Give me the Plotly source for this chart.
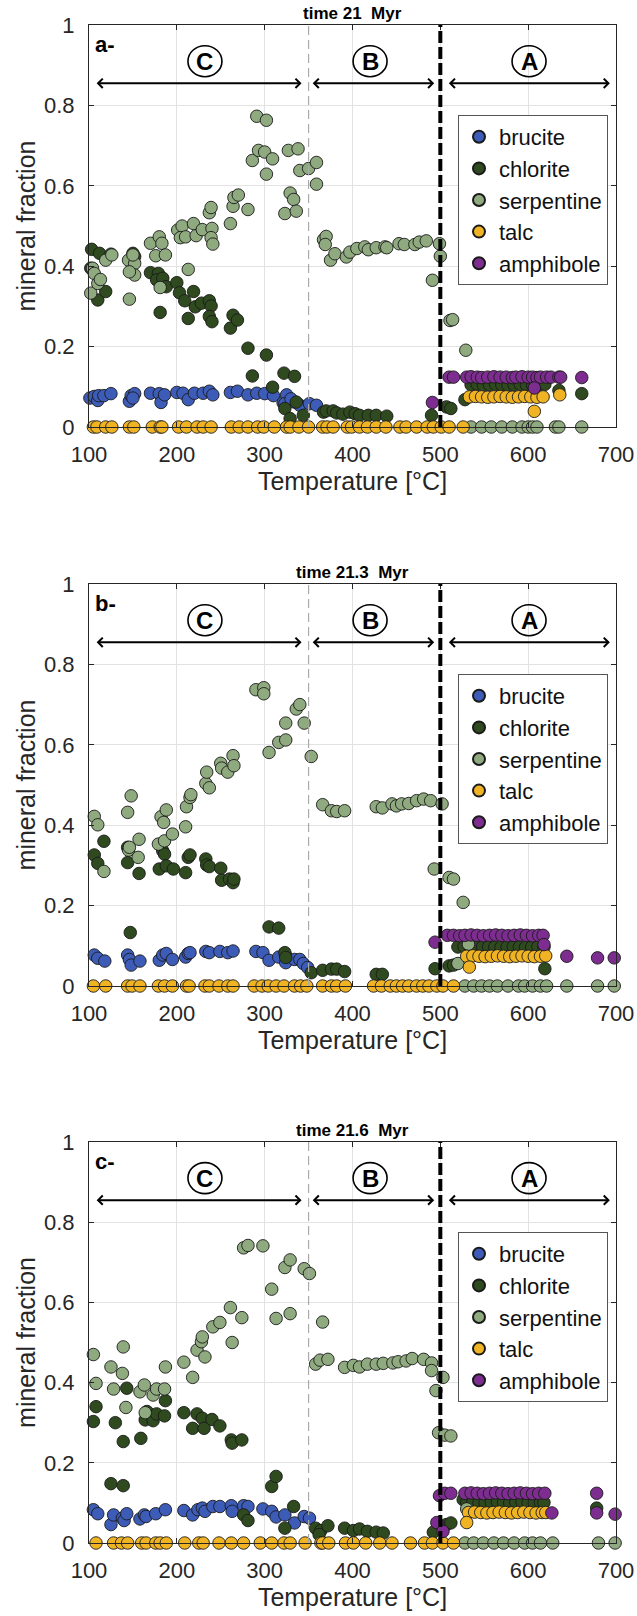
import plotly.graph_objects as go

# ---------------- DATA ----------------
minerals = ["brucite", "chlorite", "serpentine", "talc", "amphibole"]
colors = ["#3d5cb8", "#2f4a1f", "#8faa7f", "#f0b323", "#7d2d8f"]
panel_titles = ["time 21  Myr", "time 21.3  Myr", "time 21.6  Myr"]
panel_labels = ["a-", "b-", "c-"]
xticks = [100, 200, 300, 400, 500, 600, 700]
yticks = [0, 0.2, 0.4, 0.6, 0.8, 1]
ytick_text = ["0", "0.2", "0.4", "0.6", "0.8", "1"]
zone_names = ["C", "B", "A"]
zone_label_T = [232, 420, 601]
zone_arrow_start = [107, 353, 508]
zone_arrow_end = [342, 493, 693]
zone_label_v = 0.91
zone_arrow_v = 0.855
boundary_CB = 350
boundary_BA = 500

# ---- panel a (21 Myr) ----
a_brucite_T = [101, 106, 110, 111, 117, 125, 146, 148, 152, 150, 170, 180, 182, 186, 200, 207, 213, 220, 230,
               237, 241, 261, 269, 281, 291, 300, 310, 321, 325, 323, 334, 340, 351, 359, 330]
a_brucite_v = [0.072, 0.076, 0.066, 0.078, 0.078, 0.083, 0.064, 0.078, 0.083, 0.072, 0.084, 0.083, 0.061, 0.080,
               0.086, 0.084, 0.068, 0.084, 0.084, 0.089, 0.080, 0.086, 0.089, 0.080, 0.084, 0.083, 0.078, 0.060,
               0.080, 0.058, 0.062, 0.054, 0.058, 0.054, 0.070]
a_chlorite_T = [103, 112, 125, 102, 110, 119, 150, 152, 148, 170, 179, 177, 184, 188, 181, 200, 203, 209, 219, 221,
                213, 228, 237, 239, 237, 240, 261, 264, 269, 281, 302, 286, 309, 322, 334, 323, 329, 336, 344,
                367, 370, 378, 382, 389, 397, 403, 408, 418, 427, 439, 490, 507, 512, 528,
                535, 542, 549, 556, 563, 570, 577, 584, 591, 598, 605, 612, 619, 635, 661]
a_chlorite_v = [0.442, 0.432, 0.430, 0.395, 0.316, 0.337, 0.432, 0.424, 0.415, 0.384, 0.382, 0.366, 0.370, 0.349,
                0.285, 0.359, 0.334, 0.314, 0.337, 0.299, 0.270, 0.308, 0.314, 0.301, 0.275, 0.262, 0.246, 0.278,
                0.266, 0.196, 0.179, 0.127, 0.099, 0.134, 0.126, 0.046, 0.021, 0.062, 0.029,
                0.037, 0.040, 0.040, 0.035, 0.032, 0.037, 0.033, 0.029, 0.029, 0.029, 0.027, 0.029, 0.050, 0.046,
                0.068, 0.105, 0.106, 0.104, 0.105, 0.106, 0.105, 0.104, 0.105, 0.106, 0.105, 0.104, 0.105, 0.106,
                0.091, 0.083]
a_serpentine_T = [102, 104, 106, 110, 113, 119, 126, 146, 145, 152, 152, 146, 150, 170, 176, 180, 183, 187, 181,
                  201, 206, 204, 213, 210, 219, 222, 229, 237, 239, 240, 239, 241, 261, 264, 265, 270, 281,
                  286, 293, 291, 302, 300, 302, 309, 327, 338, 323, 329, 333, 336, 340, 350, 359, 359,
                  367, 370, 369, 375, 380, 393, 397, 405, 414, 418, 427, 437, 439, 453, 459, 471, 476, 484,
                  499, 500, 491, 511, 514, 529,
                  535, 547, 558, 570, 582, 593, 600, 605, 610, 631, 635, 661]
a_serpentine_v = [0.333, 0.395, 0.382, 0.357, 0.367, 0.415, 0.428, 0.318, 0.415, 0.407, 0.378, 0.386, 0.428,
                  0.457, 0.426, 0.473, 0.457, 0.428, 0.347, 0.490, 0.500, 0.471, 0.392, 0.473, 0.506, 0.476,
                  0.491, 0.533, 0.546, 0.494, 0.471, 0.455, 0.506, 0.549, 0.571, 0.577, 0.541,
                  0.663, 0.688, 0.773, 0.763, 0.684, 0.629, 0.667, 0.688, 0.692, 0.531, 0.582, 0.566, 0.537,
                  0.638, 0.643, 0.658, 0.604,
                  0.466, 0.474, 0.454, 0.415, 0.431, 0.423, 0.435, 0.444, 0.448, 0.441, 0.446, 0.448, 0.446,
                  0.456, 0.454, 0.454, 0.460, 0.463, 0.456, 0.425, 0.365, 0.265, 0.267, 0.191,
                  0, 0, 0, 0, 0, 0, 0, 0, 0, 0, 0, 0]
a_talc_T = [105, 109, 119, 126, 146, 151, 172, 181, 183, 202, 211, 223, 230, 239, 262, 271, 281, 292, 299, 311,
            325, 329, 339, 350, 366, 371, 378, 394, 399, 408, 417, 427, 438, 454, 461, 473, 485, 492, 501, 510,
            526,
            533, 540, 547, 554, 561, 568, 575, 582, 589, 596, 603, 610, 617, 607, 636]
a_talc_v = [0] * 41 + [0.075, 0.076, 0.075, 0.074, 0.075, 0.076, 0.075, 0.074, 0.075, 0.076, 0.075, 0.074, 0.075,
                       0.039, 0.080]
a_amphibole_T = [491, 510, 515, 530, 535, 542, 547, 554, 561, 568, 575, 582, 586, 593, 600, 605, 610, 614, 621,
                 626, 635, 637, 661, 607]
a_amphibole_v = [0.061, 0.124, 0.124, 0.124, 0.125, 0.124, 0.123, 0.124, 0.125, 0.124, 0.124, 0.123, 0.124,
                 0.125, 0.124, 0.124, 0.123, 0.124, 0.124, 0.124, 0.124, 0.124, 0.123, 0.097]

# ---- panel b (21.3 Myr) ----
b_brucite_T = [106, 110, 118, 144, 146, 148, 158, 180, 184, 188, 195, 210, 213, 215, 233, 237, 249, 258, 264,
               290, 298, 305, 316, 324, 324, 334, 340, 344, 349]
b_brucite_v = [0.077, 0.069, 0.062, 0.077, 0.066, 0.052, 0.062, 0.064, 0.077, 0.081, 0.066, 0.072, 0.081, 0.083,
               0.086, 0.083, 0.086, 0.083, 0.087, 0.086, 0.083, 0.064, 0.072, 0.058, 0.075, 0.066, 0.066, 0.056,
               0.046]
b_chlorite_T = [106, 110, 117, 144, 144, 157, 147, 180, 184, 186, 188, 196, 210, 213, 215, 233, 234, 237, 250,
                251, 260, 264, 265, 305, 316, 323, 324, 353, 366, 376, 382, 391, 427, 434, 494, 510, 515,
                520, 527, 534, 541, 548, 555, 562, 569, 576, 583, 590, 597, 604, 611, 618, 619]
b_chlorite_v = [0.326, 0.305, 0.360, 0.345, 0.307, 0.280, 0.133, 0.291, 0.336, 0.328, 0.299, 0.291, 0.282,
                0.320, 0.326, 0.316, 0.301, 0.297, 0.293, 0.263, 0.266, 0.257, 0.266, 0.147, 0.144, 0.083,
                0.071, 0.033, 0.039, 0.042, 0.042, 0.036, 0.029, 0.029, 0.043, 0.050, 0.052,
                0.097, 0.098, 0.097, 0.096, 0.097, 0.098, 0.097, 0.096, 0.097, 0.098, 0.097, 0.096, 0.097,
                0.098, 0.097, 0.043]
b_serpentine_T = [106, 110, 117, 144, 148, 145, 146, 157, 156, 179, 182, 185, 186, 188, 195, 210, 211, 215, 216,
                  233, 234, 237, 250, 251, 258, 264, 265, 290, 299, 299, 305, 316, 324, 324, 336, 340, 345, 353,
                  366, 376, 382, 391, 427, 434, 445, 450, 456, 464, 473, 481, 489, 502, 493, 510, 515, 526,
                  532, 520,
                  528, 538, 547, 556, 565, 577, 589, 596, 605, 614, 621, 644, 679, 698]
b_serpentine_v = [0.422, 0.401, 0.285, 0.432, 0.473, 0.338, 0.345, 0.365, 0.320, 0.353, 0.421, 0.407, 0.361,
                  0.438, 0.378, 0.396, 0.446, 0.469, 0.476, 0.504, 0.532, 0.493, 0.554, 0.542, 0.532, 0.573,
                  0.548, 0.737, 0.742, 0.727, 0.581, 0.606, 0.612, 0.654, 0.689, 0.700, 0.654, 0.571,
                  0.451, 0.436, 0.434, 0.436, 0.446, 0.443, 0.453, 0.448, 0.453, 0.454, 0.461, 0.465, 0.461,
                  0.453, 0.291, 0.270, 0.266, 0.208, 0.104, 0.056,
                  0, 0, 0, 0, 0, 0, 0, 0, 0, 0, 0, 0, 0, 0]
b_talc_T = [105, 119, 144, 149, 158, 179, 186, 195, 211, 214, 232, 237, 248, 258, 264, 288, 297, 304, 313, 322,
            334, 341, 348, 366, 376, 382, 392, 424, 433, 443, 450, 457, 464, 473, 480, 487, 496, 503, 515,
            530, 537, 544, 551, 558, 565, 572, 579, 586, 593, 600, 607, 614, 620, 533]
b_talc_v = [0] * 39 + [0.074, 0.075, 0.074, 0.073, 0.074, 0.075, 0.074, 0.073, 0.074, 0.075, 0.074, 0.073,
                       0.074, 0.075, 0.047]
b_amphibole_T = [494, 508, 515, 522, 528, 535, 542, 549, 556, 563, 570, 577, 584, 591, 598, 605, 612, 617, 618,
                 644, 679, 698]
b_amphibole_v = [0.109, 0.126, 0.126, 0.125, 0.126, 0.127, 0.126, 0.125, 0.126, 0.127, 0.126, 0.125, 0.126,
                 0.127, 0.126, 0.125, 0.126, 0.126, 0.103, 0.074, 0.070, 0.070]

# ---- panel c (21.6 Myr) ----
c_brucite_T = [105, 110, 125, 128, 138, 140, 143, 158, 163, 165, 176, 187, 208, 218, 224, 229, 232, 241, 249,
               262, 263, 276, 281, 298, 308, 313, 323, 334, 345, 351]
c_brucite_v = [0.083, 0.073, 0.046, 0.070, 0.062, 0.056, 0.073, 0.060, 0.070, 0.066, 0.073, 0.083, 0.081, 0.070,
               0.083, 0.087, 0.079, 0.091, 0.091, 0.093, 0.079, 0.093, 0.091, 0.085, 0.079, 0.065, 0.070,
               0.050, 0.066, 0.062]
c_chlorite_T = [105, 108, 130, 125, 139, 139, 143, 159, 164, 166, 173, 177, 186, 187, 208, 218, 223, 229, 231,
                240, 249, 262, 263, 274, 276, 281, 308, 313, 323, 333, 358, 364, 362, 372, 391, 401, 408, 417,
                427, 435, 492, 507, 512, 526,
                530, 537, 544, 551, 558, 565, 572, 579, 586, 593, 600, 607, 614, 618, 678]
c_chlorite_v = [0.303, 0.340, 0.300, 0.148, 0.143, 0.253, 0.386, 0.261, 0.307, 0.328, 0.305, 0.322, 0.317,
                0.355, 0.325, 0.286, 0.322, 0.311, 0.286, 0.308, 0.292, 0.257, 0.249, 0.257, 0.070, 0.056,
                0.141, 0.166, 0.037, 0.091, 0.037, 0.031, 0.021, 0.043, 0.037, 0.031, 0.035, 0.029, 0.027,
                0.025, 0.027, 0.046, 0.050, 0.108,
                0.101, 0.102, 0.101, 0.100, 0.101, 0.102, 0.101, 0.100, 0.101, 0.102, 0.101, 0.100, 0.101,
                0.101, 0.087]
c_serpentine_T = [105, 108, 125, 128, 138, 139, 142, 158, 163, 164, 173, 177, 186, 187, 208, 218, 223, 228, 229,
                  232, 241, 249, 261, 263, 274, 276, 281, 298, 308, 313, 323, 329, 329, 345, 351, 366, 358, 363,
                  372, 391, 401, 408, 417, 427, 435, 446, 452, 461, 468, 481, 490, 490, 495, 503, 498, 505,
                  512, 530,
                  528, 538, 549, 561, 572, 584, 596, 605, 614, 628, 680, 699]
c_serpentine_v = [0.470, 0.398, 0.439, 0.384, 0.423, 0.489, 0.338, 0.377, 0.394, 0.325, 0.369, 0.384, 0.384,
                  0.439, 0.451, 0.413, 0.481, 0.502, 0.514, 0.464, 0.539, 0.550, 0.587, 0.500, 0.562, 0.736,
                  0.742, 0.741, 0.633, 0.560, 0.687, 0.706, 0.572, 0.684, 0.672, 0.551, 0.446, 0.456, 0.458,
                  0.438, 0.443, 0.439, 0.446, 0.446, 0.448, 0.449, 0.452, 0.454, 0.460, 0.458, 0.449, 0.430,
                  0.380, 0.413, 0.275, 0.269, 0.267, 0.085,
                  0, 0, 0, 0, 0, 0, 0, 0, 0, 0, 0, 0]
c_talc_T = [108, 128, 137, 144, 160, 165, 176, 181, 188, 209, 225, 230, 248, 262, 276, 295, 308, 322, 329, 346,
            364, 366, 373, 392, 401, 415, 431, 445, 466, 482, 491, 503, 515,
            532, 539, 546, 553, 560, 567, 574, 581, 588, 595, 602, 609, 616, 620, 530]
c_talc_v = [0] * 33 + [0.076, 0.077, 0.076, 0.075, 0.076, 0.077, 0.076, 0.075, 0.076, 0.077, 0.076, 0.075,
                       0.076, 0.076, 0.051]
c_amphibole_T = [496, 503, 499, 505, 512, 528, 535, 542, 549, 556, 563, 570, 577, 584, 591, 598, 605, 612, 619,
                 627, 678, 678, 699]
c_amphibole_v = [0.051, 0.029, 0.118, 0.124, 0.124, 0.124, 0.125, 0.124, 0.123, 0.124, 0.125, 0.124, 0.123,
                 0.124, 0.125, 0.124, 0.123, 0.124, 0.124, 0.075, 0.124, 0.075, 0.072]

panels = [
    [(a_brucite_T, a_brucite_v), (a_chlorite_T, a_chlorite_v), (a_serpentine_T, a_serpentine_v),
     (a_talc_T, a_talc_v), (a_amphibole_T, a_amphibole_v)],
    [(b_brucite_T, b_brucite_v), (b_chlorite_T, b_chlorite_v), (b_serpentine_T, b_serpentine_v),
     (b_talc_T, b_talc_v), (b_amphibole_T, b_amphibole_v)],
    [(c_brucite_T, c_brucite_v), (c_chlorite_T, c_chlorite_v), (c_serpentine_T, c_serpentine_v),
     (c_talc_T, c_talc_v), (c_amphibole_T, c_amphibole_v)],
]

# ---------------- FIGURE ----------------
W, H = 637, 1616
ML, MR, MT, MB = 89, 21, 25, 73
plot_h = H - MT - MB
# panel pixel extents (top, bottom)
panel_px = [(25, 427), (584, 986), (1142, 1543)]
domains = [[(H - MB - b) / plot_h, (H - MB - t) / plot_h] for (t, b) in panel_px]
domains = [[max(0, d0), min(1, d1)] for d0, d1 in domains]

AX = "#262626"
FONT = "Liberation Sans, Arial, sans-serif"

fig = go.Figure()
for p, pdata in enumerate(panels):
    xa = "x" if p == 0 else f"x{p+1}"
    ya = "y" if p == 0 else f"y{p+1}"
    lg = "legend" if p == 0 else f"legend{p+1}"
    for m, (T, v) in enumerate(pdata):
        fig.add_trace(go.Scatter(
            x=T, y=v, mode="markers", name=minerals[m],
            xaxis=xa, yaxis=ya, legend=lg, cliponaxis=False,
            marker=dict(size=12.5, color=colors[m], line=dict(color="#1a1a1a", width=0.9)),
        ))

layout = dict(
    width=W, height=H,
    margin=dict(l=ML, r=MR, t=MT, b=MB),
    paper_bgcolor="white", plot_bgcolor="white",
    font=dict(family=FONT, color=AX),
    showlegend=True,
)
shapes = []
annotations = []
for p in range(3):
    sfx = "" if p == 0 else str(p + 1)
    layout["xaxis" + sfx] = dict(
        domain=[0, 1], anchor="y" + sfx, range=[100, 700],
        tickvals=xticks, ticktext=[str(t) for t in xticks],
        ticks="inside", ticklen=5, tickcolor=AX, showline=True, linecolor=AX, linewidth=1,
        mirror="ticks", showgrid=True, gridcolor="#e2e2e2", gridwidth=1, zeroline=False,
        tickfont=dict(size=22, color=AX, family=FONT), ticklabelstandoff=8,
        title=dict(text="Temperature [°C]", font=dict(size=25, color=AX, family=FONT), standoff=6),
        automargin=False,
    )
    layout["yaxis" + sfx] = dict(
        domain=domains[p], anchor="x" + sfx, range=[0, 1],
        tickvals=yticks, ticktext=ytick_text,
        ticks="inside", ticklen=5, tickcolor=AX, showline=True, linecolor=AX, linewidth=1,
        mirror="ticks", showgrid=True, gridcolor="#e2e2e2", gridwidth=1, zeroline=False,
        tickfont=dict(size=22, color=AX, family=FONT), ticklabelstandoff=9,
        title=dict(text="mineral fraction", font=dict(size=25, color=AX, family=FONT), standoff=1),
        automargin=False,
    )
    legname = "legend" + sfx
    layout[legname] = dict(
        x=(458 - ML) / (W - ML - MR), xanchor="left",
        y=(H - MB - (115 + panel_px[p][0] - 25)) / plot_h, yanchor="top",
        bgcolor="white", bordercolor="#555555", borderwidth=1,
        font=dict(size=22, family=FONT, color="#111111"),
        itemsizing="constant", tracegroupgap=0,
    )
    xr, yr = "x" + sfx, "y" + sfx
    # boundaries
    shapes.append(dict(type="line", xref=xr, yref=yr + " domain", x0=boundary_CB, x1=boundary_CB, y0=0, y1=1,
                       line=dict(color="#aaaaaa", width=1.2, dash="9px,5px"), layer="above"))
    shapes.append(dict(type="line", xref=xr, yref=yr + " domain", x0=boundary_BA, x1=boundary_BA, y0=0, y1=1,
                       line=dict(color="black", width=4, dash="12px,4px"), layer="above"))
    for z in range(3):
        shapes.append(dict(type="circle", xref=xr, yref=yr, xsizemode="pixel", ysizemode="pixel",
                           xanchor=zone_label_T[z], yanchor=zone_label_v, x0=-17, x1=17, y0=-15.5, y1=15.5,
                           line=dict(color="black", width=1.6)))
        annotations.append(dict(x=zone_label_T[z], y=zone_label_v, xref=xr, yref=yr,
                                text="<b>" + zone_names[z] + "</b>", showarrow=False,
                                font=dict(size=24, color="black", family=FONT)))
        annotations.append(dict(x=zone_arrow_end[z], y=zone_arrow_v, ax=zone_arrow_start[z], ay=zone_arrow_v,
                                xref=xr, yref=yr, axref=xr, ayref=yr, text="", showarrow=True,
                                arrowhead=4, startarrowhead=4, arrowside="end+start",
                                arrowwidth=2, arrowsize=0.9, startarrowsize=0.9, arrowcolor="black"))
    annotations.append(dict(x=0, y=1, xref=xr + " domain", yref=yr + " domain", xanchor="left", yanchor="top",
                            xshift=4, yshift=-5, text="<b>" + panel_labels[p] + "</b>", showarrow=False,
                            font=dict(size=22, color="black", family=FONT)))
    annotations.append(dict(x=0.5, y=1, xref=xr + " domain", yref=yr + " domain", xanchor="center",
                            yanchor="bottom", yshift=0, text="<b>" + panel_titles[p] + "</b>", showarrow=False,
                            font=dict(size=17, color="black", family=FONT)))

layout["shapes"] = shapes
layout["annotations"] = annotations
fig.update_layout(**layout)
fig.write_html("out.html")
